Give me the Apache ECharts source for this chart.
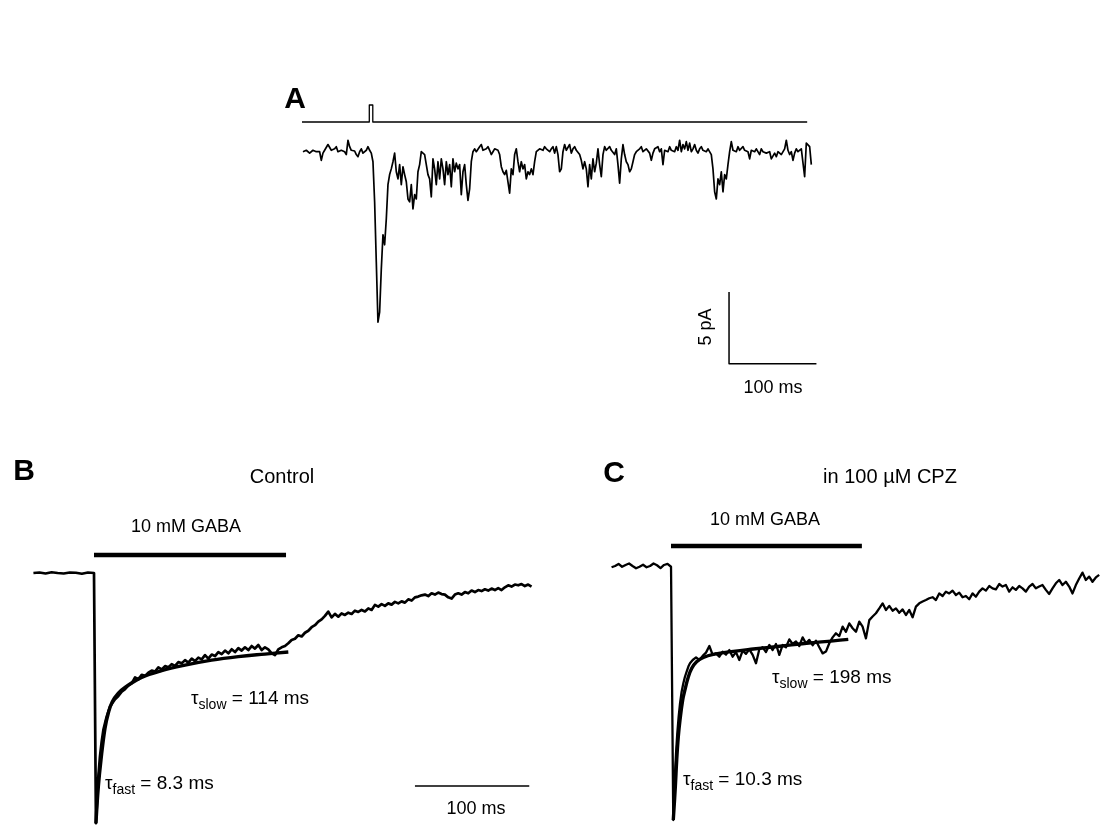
<!DOCTYPE html>
<html>
<head>
<meta charset="utf-8">
<script src="https://cdn.jsdelivr.net/npm/echarts@6/dist/echarts.min.js"></script>
<style>html,body{margin:0;padding:0;background:#fff}#chart{width:1100px;height:826px}</style>
</head>
<body>
<div id="chart"></div>
<script>
// ---------------- DATA ----------------
// Panel A – stimulus marker (ms, on/off)
const stimTime  = [0, 77, 77, 81, 81, 578];
const stimLevel = [0, 0, 1, 1, 0, 0];

// Panel A – evoked current, sampled trace (pA), first sample time and interval (ms)
const traceA_t0 = 1.1;
const traceA_dt = 1.907;
const traceA = [
  0,-0.1,0.1,0.2,-0.1,-0.2,0.1,0.2,0,-0.1,
  0,-0.6,-0.1,0.1,0.2,0.5,0.6,0.1,0,0.2,
  0.35,0,-0.1,0.1,0.2,0,-0.2,0.8,0.35,0.1,
  0,0.05,-0.2,-0.35,0,0.2,-0.1,-0.2,0.1,0.35,
  0.1,-0.1,-0.7,-3.5,-7.7,-11.9,-11.2,-8.2,-5.8,-6.5,
  -4.7,-2.3,-1.6,-1.2,-0.7,-0.1,-1.4,-1.9,-0.9,-2.3,
  -1.05,-1.6,-2.1,-3.3,-3.5,-2.3,-4.0,-3.0,-3.3,-1.4,
  -0.9,0,0.1,-0.2,-0.1,-1.6,-1.9,-3.15,-0.5,-1.2,
  -2.3,-0.7,-1.9,-0.5,-1.2,-2.3,-0.7,-1.6,-0.9,-2.45,
  -0.5,-1.4,-0.8,-1.2,-0.9,-3.0,-1.4,-0.9,-2.3,-3.4,
  -2.6,-0.7,0,0.2,0,-0.1,0.35,0.5,0.1,0,
  0.2,0.35,0.1,-0.2,0,0.2,0.3,0.1,-0.2,-1.05,
  -1.4,-1.6,-1.3,-2.1,-2.9,-1.2,-1.6,-0.2,0.2,-0.7,
  -1.4,-0.7,-1.2,-0.9,-1.9,-1.4,-1.6,-1.2,-1.6,-0.7,
  0,0.1,0.2,0.2,0.1,0.35,0.2,0.1,0,0.2,
  0.35,-0.1,0.35,-0.2,-1.4,
  -1.2,0,0.5,0.1,0.2,0.5,-0.1,0.2,0.35,0.1,
  0,-0.2,-0.6,-1.2,-0.7,-1.2,-2.45,-0.9,-1.9,-0.5,
  -1.4,-0.8,0.2,-0.9,-1.75,-0.2,0.35,0.1,0.2,0.35,
  0.1,0,-0.2,0.2,-0.9,-2.2,-0.5,0.5,-0.2,-0.7,
  -0.9,-1.4,-1.2,-0.7,-0.2,0,0.1,0.2,0.35,0,
  0.1,0.2,0.1,-0.1,-0.6,-0.1,0.2,0.1,0.35,0,
  0.2,-0.9,0.1,0.2,0,0.35,0.1,0.2,0,0.35,
  0.1,0.8,0,0.5,0.2,0.7,0.1,0.6,0,0.2,
  0.5,0.1,-0.1,0.2,0.35,0.1,0.2,0,0.2,0.1,
  -0.2,-1.2,-2.8,-3.3,-1.9,-2.3,-1.4,-2.8,-1.6,-1.9,
  -0.9,0,0.7,0.1,0.2,0,0.35,0.1,0.2,0.35,
  0.1,0.2,0,-0.5,0.1,0.2,0,0.2,0.1,-0.2,
  0.2,0,0.1,-0.1,-0.2,0,-0.5,-0.6,-0.1,-0.35,
  0,0.1,-0.2,-0.1,0.2,0.8,0.1,-0.2,0,-0.6,
  -0.1,0.2,0,0.1,0.2,0.1,-1.75,0.6,0.7,0.35,
  -0.9
];
// Panel A – scale bars (ms, pA)
const scaleA_ms = 100, scaleA_pA = 5;
const scaleA_corner = [488.6, -14.8];

// Panel B – Control, normalised current (0 = baseline, -1 = peak), time in ms from GABA onset
const preB_t0 = -53, preB_dt = 5.3;
const preB = [0,0.002,-0.002,0.003,0,-0.002,0.002,0.001,-0.003,0.002,0];
const fastB = [[1.7,-0.997],[2.3,-0.944],[3.8,-0.811],[5.2,-0.732],[6.7,-0.672],[8.2,-0.625],
  [9.6,-0.599],[11.1,-0.572],[12.5,-0.552],[14.0,-0.533]];
const tailB_t0 = 15.5, tailB_dt = 2.915;
const tailB = [
  -0.522,-0.503,-0.49,-0.473,-0.463,-0.448,-0.44,-0.416,-0.424,-0.406,
  -0.41,-0.397,-0.389,-0.393,-0.376,-0.384,-0.371,-0.376,-0.363,-0.37,
  -0.355,-0.36,-0.347,-0.357,-0.341,-0.351,-0.337,-0.344,-0.327,-0.341,
  -0.325,-0.331,-0.315,-0.323,-0.309,-0.32,-0.304,-0.315,-0.299,-0.309,
  -0.296,-0.307,-0.291,-0.301,-0.287,-0.307,-0.296,-0.304,-0.32,-0.327,
  -0.304,-0.296,-0.291,-0.28,-0.267,-0.262,-0.248,-0.253,-0.238,-0.23,
  -0.216,-0.208,-0.194,-0.185,-0.171,-0.154,-0.177,-0.163,-0.174,-0.161,
  -0.167,-0.158,-0.163,-0.15,-0.155,-0.147,-0.153,-0.141,-0.147,-0.127,
  -0.134,-0.124,-0.131,-0.121,-0.126,-0.115,-0.121,-0.113,-0.118,-0.105,
  -0.11,-0.097,-0.094,-0.089,-0.086,-0.092,-0.081,-0.086,-0.078,-0.084,
  -0.086,-0.097,-0.102,-0.086,-0.081,-0.086,-0.076,-0.081,-0.07,-0.076,
  -0.068,-0.072,-0.065,-0.07,-0.062,-0.068,-0.06,-0.068,-0.057,-0.049,
  -0.054,-0.046,-0.049,-0.044,-0.052,-0.046,-0.054
];
const fitB = [[1.7,-0.997],[3.8,-0.851],[6.1,-0.745],[9.6,-0.619],[12.5,-0.559],[16.0,-0.513],
  [21.3,-0.479],[27.1,-0.456],[41.7,-0.416],[59.2,-0.389],[79.6,-0.367],[102.9,-0.347],
  [126.2,-0.333],[149.6,-0.323],[170.0,-0.315]];
const gabaB = [0, 168];            // application window, ms
const gabaB_level = 0.072;
const scaleB_ms = 100;
const scaleB_start = [280.8, -0.849];

// Panel C – in 100 µM CPZ
const preC_t0 = -52, preC_dt = 3.06;
const preC = [-0.005,0,0.008,-0.003,0.004,0.01,0,-0.009,-0.003,0.005,-0.005,0,0.01,0.003,-0.008,0.004,0.008,-0.003];
const fastC = [[2.0,-1.0],[2.6,-0.921],[3.5,-0.816],[4.4,-0.738],[5.5,-0.659],[6.7,-0.593],[7.9,-0.541],
  [9.3,-0.495],[10.8,-0.462],[12.2,-0.436],[13.7,-0.416],[15.2,-0.396],[16.6,-0.383],[19.0,-0.37],[21.9,-0.36]];
const tailC_t0 = 24.8, tailC_dt = 2.915;
const tailC = [
  -0.370,-0.354,-0.341,-0.315,-0.350,-0.344,-0.357,-0.337,-0.349,-0.331,
  -0.357,-0.339,-0.370,-0.333,-0.346,-0.328,-0.350,-0.383,-0.328,-0.320,
  -0.339,-0.311,-0.331,-0.307,-0.350,-0.311,-0.320,-0.289,-0.307,-0.297,
  -0.315,-0.281,-0.304,-0.291,-0.312,-0.294,-0.320,-0.344,-0.337,-0.304,
  -0.281,-0.265,-0.276,-0.239,-0.259,-0.226,-0.245,-0.259,-0.219,-0.239,
  -0.285,-0.213,-0.199,-0.186,-0.167,-0.147,-0.173,-0.157,-0.176,-0.167,
  -0.184,-0.171,-0.193,-0.173,-0.202,-0.160,-0.147,-0.140,-0.134,-0.127,
  -0.123,-0.134,-0.108,-0.118,-0.101,-0.108,-0.097,-0.114,-0.105,-0.123,
  -0.118,-0.131,-0.108,-0.121,-0.101,-0.088,-0.097,-0.079,-0.088,-0.092,
  -0.071,-0.081,-0.075,-0.101,-0.084,-0.094,-0.079,-0.088,-0.101,-0.081,
  -0.071,-0.088,-0.081,-0.075,-0.094,-0.110,-0.088,-0.068,-0.055,-0.075,
  -0.062,-0.081,-0.108,-0.075,-0.049,-0.026,-0.055,-0.042,-0.062,-0.045,
  -0.035
];
const fitC = [[2.0,-1.0],[3.8,-0.869],[5.0,-0.764],[6.4,-0.672],[7.9,-0.606],[10.2,-0.528],[12.2,-0.488],
  [15.2,-0.436],[18.1,-0.403],[22.4,-0.377],[28.3,-0.36],[37.0,-0.348],[54.5,-0.336],[72.0,-0.327],
  [95.3,-0.316],[118.7,-0.304],[142.0,-0.295],[155.1,-0.289]];
const gabaC = [0, 167];
const gabaC_level = 0.079;

// ---------------- LAYOUT ----------------
function gridBox(x0, sx, xmin, xmax, y0, sy, ymin, ymax) {
  return {left: x0 + sx * xmin, width: sx * (xmax - xmin), top: y0 - sy * ymax, height: sy * (ymax - ymin)};
}
const AX = {x0: 302, sx: 0.874, xmin: 0, xmax: 600};
const RB = [-60, 400, -1.0, 0.2];
const RC = [-60, 375, -1.0, 0.2];
const gA    = gridBox(AX.x0, AX.sx, AX.xmin, AX.xmax, 151.7, 14.32, -16, 2);
const gStim = gridBox(AX.x0, AX.sx, AX.xmin, AX.xmax, 122, 17, -0.2, 1.2);
const gB    = gridBox(94, 1.143, RB[0], RB[1], 573, 251, RB[2], RB[3]);
const gC    = gridBox(671, 1.143, RC[0], RC[1], 566, 254, RC[2], RC[3]);

const sampled = (t0, dt, v) => v.map((y, i) => [+(t0 + i * dt).toFixed(2), y]);
const FONT = '"Liberation Sans", Arial, Helvetica, sans-serif';
const K = '#000';

function line(data, xi, width, extra) {
  return Object.assign({type: 'line', xAxisIndex: xi, yAxisIndex: xi, data: data, showSymbol: false,
    symbol: 'none', animation: false, silent: true, clip: false,
    lineStyle: {color: K, width: width, join: 'round', cap: 'butt'}}, extra || {});
}

const traceBdata = sampled(preB_t0, preB_dt, preB).concat(fastB, sampled(tailB_t0, tailB_dt, tailB));
const traceCdata = sampled(preC_t0, preC_dt, preC).concat(fastC, sampled(tailC_t0, tailC_dt, tailC));
const traceAdata = sampled(traceA_t0, traceA_dt, traceA);
const stimData = stimTime.map((t, i) => [t, stimLevel[i]]);
const scaleAdata = [[scaleA_corner[0], scaleA_corner[1] + scaleA_pA], scaleA_corner,
                    [scaleA_corner[0] + scaleA_ms, scaleA_corner[1]]];
const scaleBdata = [scaleB_start, [scaleB_start[0] + scaleB_ms, scaleB_start[1]]];

const grids = [gStim, gA, gB, gC];
const ranges = [[AX.xmin, AX.xmax, -0.2, 1.2], [AX.xmin, AX.xmax, -16, 2], RB, RC];

function txt(text, x, y, size, opts) {
  opts = opts || {};
  return {type: 'text', silent: true, rotation: opts.rotation || 0, x: x, y: y,
    style: {text: text, x: 0, y: 0, fill: K, font: (opts.bold ? 'bold ' : '') + size + 'px ' + FONT,
      align: opts.align || 'center', verticalAlign: 'middle',
      textAlign: opts.align || 'center', textVerticalAlign: 'middle'}};
}
function tau(sub, rest, x, y) {
  return {type: 'text', silent: true, x: x, y: y,
    style: {text: '{t|τ}{s|' + sub + '}{t|' + rest + '}', x: 0, y: 0, fill: K,
      align: 'left', verticalAlign: 'middle', textAlign: 'left', textVerticalAlign: 'middle',
      rich: {
        t: {fontSize: 19, fontFamily: FONT, lineHeight: 26, verticalAlign: 'middle', fill: K, color: K},
        s: {fontSize: 14, fontFamily: FONT, lineHeight: 14, verticalAlign: 'bottom', fill: K, color: K}
      }}};
}

const option = {
  backgroundColor: '#fff',
  animation: false,
  grid: grids.map(g => Object.assign({containLabel: false, show: false}, g)),
  xAxis: ranges.map((r, i) => ({type: 'value', gridIndex: i, min: r[0], max: r[1], show: false})),
  yAxis: ranges.map((r, i) => ({type: 'value', gridIndex: i, min: r[2], max: r[3], show: false})),
  series: [
    line(stimData, 0, 1.3),
    line(traceAdata, 1, 1.7),
    line(scaleAdata, 1, 1.5),
    line(traceBdata, 2, 2.7),
    line(fitB, 2, 3.4, {smooth: 0.4}),
    line([[gabaB[0], gabaB_level], [gabaB[1], gabaB_level]], 2, 4.5),
    line(scaleBdata, 2, 1.5),
    line(traceCdata, 3, 2.3),
    line(fitC, 3, 3.4, {smooth: 0.4}),
    line([[gabaC[0], gabaC_level], [gabaC[1], gabaC_level]], 3, 4.5)
  ],
  graphic: [
    txt('A', 295, 100, 30, {bold: true}),
    txt('5 pA', 706, 327, 18, {rotation: Math.PI / 2}),
    txt('100 ms', 773, 388, 18),
    txt('B', 24, 472, 30, {bold: true}),
    txt('Control', 282, 477, 20),
    txt('10 mM GABA', 186, 527, 18),
    tau('slow', ' = 114 ms', 191, 699),
    tau('fast', ' = 8.3 ms', 105, 784),
    txt('100 ms', 476, 809, 18),
    txt('C', 614, 474, 30, {bold: true}),
    txt('in 100 \u00B5M CPZ', 890, 477, 20),
    txt('10 mM GABA', 765, 520, 18),
    tau('slow', ' = 198 ms', 772, 678),
    tau('fast', ' = 10.3 ms', 683, 780)
  ]
};
const chart = echarts.init(document.getElementById('chart'), null, {renderer: 'canvas'});
chart.setOption(option);
</script>
</body>
</html>
